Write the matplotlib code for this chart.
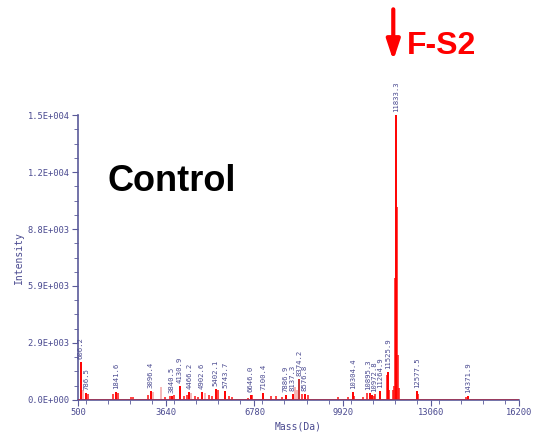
import matplotlib
matplotlib.use("Agg")
import matplotlib.pyplot as plt
from matplotlib.ticker import FixedLocator, MultipleLocator

# labelled peaks (mass, intensity)
label_mass = [606.2, 786.5, 1841.6, 3096.4, 3840.5, 4130.9, 4466.2, 4902.6,
              5402.1, 5743.7, 6646.0, 7100.4, 7886.9, 8137.3, 8374.2, 8576.8,
              10304.4, 10895.3, 10972.8, 11264.9, 11525.9, 11833.3, 12577.5, 14371.9]
label_int = [1950, 380, 420, 470, 230, 720, 430, 400,
             560, 470, 260, 370, 260, 320, 1080, 320,
             420, 340, 260, 470, 1450, 14700, 460, 200]

# unlabelled small / shoulder peaks
minor_mass = [680, 870, 1760, 1910, 2390, 2470, 2980, 3170, 3443, 3600, 3760,
              3930, 4260, 4380, 4540, 4650, 4780, 5020, 5180, 5280, 5480, 5860,
              6000, 6560, 6700, 7380, 7560, 7750, 8220, 8300, 8480, 8700, 9750,
              10100, 10330, 10650, 10800, 11020, 11090, 11500, 11560, 11700,
              11760, 11800, 11860, 11885, 11920, 12600, 14320]
minor_int = [500, 330, 300, 360, 150, 150, 250, 420, 670, 150, 200,
             250, 200, 280, 350, 200, 150, 380, 250, 200, 520, 200,
             150, 120, 250, 200, 180, 150, 670, 500, 320, 250, 150,
             150, 200, 150, 350, 200, 300, 1300, 500, 500,
             700, 6300, 9950, 2300, 600, 300, 150]
minor_light = [3170, 3443, 8220, 8300, 4540, 5020, 680]

ytick_vals = [0, 2940, 5880, 8820, 11760, 14700]
ytick_text = ["0.0E+000", "2.9E+003", "5.9E+003", "8.8E+003", "1.2E+004", "1.5E+004"]
xtick_vals = [500, 3640, 6780, 9920, 13060, 16200]

axis_col = "#5a5a9a"
text_col = "#4a4a90"

fig = plt.figure(figsize=(5.38, 4.36), dpi=100)
ax = fig.add_axes([0.145, 0.0826, 0.8197, 0.6536])

for m, v in zip(minor_mass, minor_int):
    c = "#f3a3a3" if m in minor_light else "#ff1010"
    ax.vlines(m, 0, v, color=c, lw=1.1)
for m, v in zip(label_mass, label_int):
    c = "#c83030" if m == 8374.2 else "#ff0000"
    ax.vlines(m, 0, v, color=c, lw=1.4)
    # small nudge so the two crowded labels near 10900 don't sit on top of each other
    dx = -70 if m == 10895.3 else (50 if m == 10972.8 else 0)
    ax.text(m + dx, v + 150, f"{m:.1f}", rotation=90, ha="center", va="bottom",
            fontsize=5.2, family="DejaVu Sans Mono", color=text_col)

ax.axhline(0, color="#a03050", lw=1.2, zorder=3)

ax.set_xlim(500, 16200)
ax.set_ylim(0, 14700)
for s in ["top", "right"]:
    ax.spines[s].set_visible(False)
for s in ["left", "bottom"]:
    ax.spines[s].set_color(axis_col)
    ax.spines[s].set_linewidth(1.2)

ax.xaxis.set_major_locator(FixedLocator(xtick_vals))
ax.xaxis.set_minor_locator(MultipleLocator(785))
ax.yaxis.set_major_locator(FixedLocator(ytick_vals))
ax.yaxis.set_minor_locator(MultipleLocator(735))
ax.set_yticklabels(ytick_text)
ax.tick_params(which="both", colors=axis_col, labelcolor=text_col, labelsize=6.3)
ax.tick_params(which="major", length=4, pad=2)
ax.tick_params(which="minor", length=3)
for lab in ax.get_xticklabels() + ax.get_yticklabels():
    lab.set_family("DejaVu Sans Mono")

ax.set_xlabel("Mass(Da)", fontsize=7, color=text_col, family="DejaVu Sans Mono", labelpad=3)
ax.set_ylabel("Intensity", fontsize=7, color=text_col, family="DejaVu Sans Mono", labelpad=3)

fig.text(0.2, 0.563, "Control", fontsize=26, fontweight="bold",
         family="Liberation Sans", color="black")
fig.text(0.757, 0.875, "F-S2", fontsize=23, fontweight="bold",
         family="Liberation Sans", color="#ff0000")
ax.annotate("", xy=(0.731, 0.855), xytext=(0.731, 0.985), xycoords="figure fraction",
            arrowprops=dict(arrowstyle="-|>,head_width=0.4,head_length=1.2",
                            color="#ff0000", lw=3))

fig.savefig("out.png", dpi=100)
